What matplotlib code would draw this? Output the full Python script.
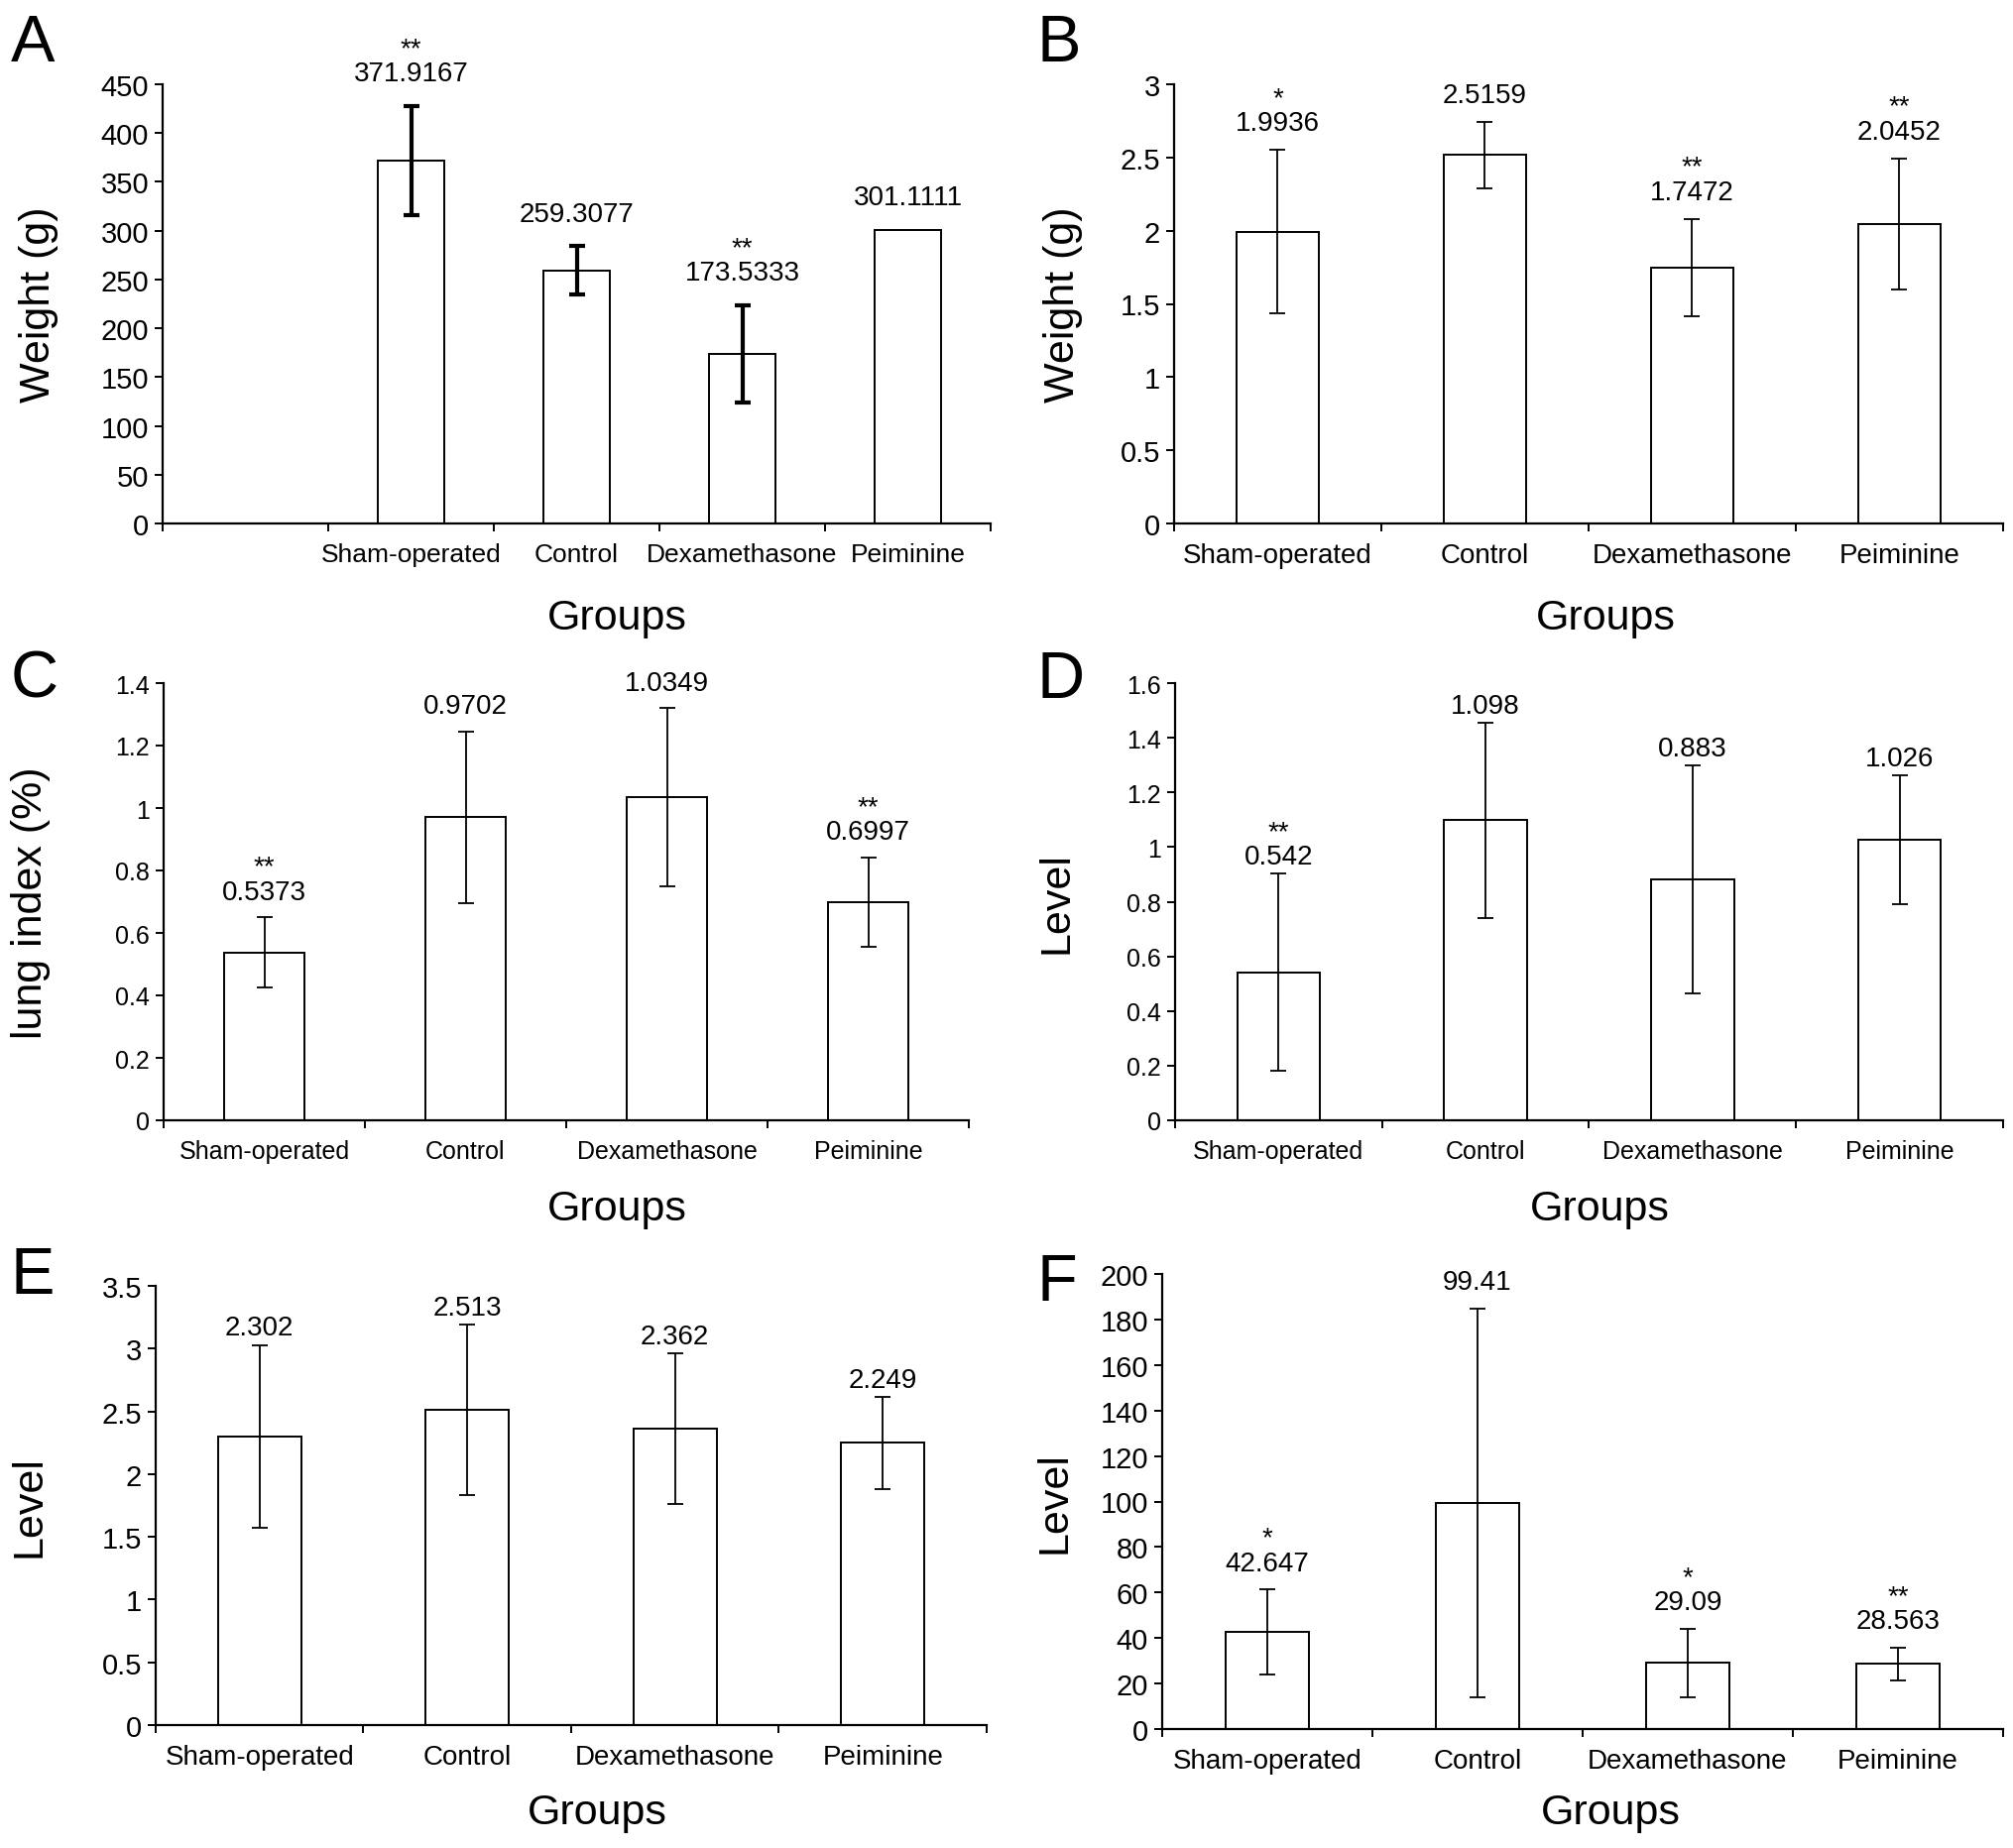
import numpy as np
import matplotlib
matplotlib.use('Agg')
import matplotlib.pyplot as plt
from matplotlib import font_manager
from matplotlib.ticker import MultipleLocator, FormatStrFormatter, FixedLocator

# fonts: narrow face for the value labels if there is one
names = set(f.name for f in font_manager.fontManager.ttflist)
narrow = 'Liberation Sans Narrow' if 'Liberation Sans Narrow' in names else 'Liberation Sans'
plt.rcParams['font.family'] = ['Liberation Sans', 'DejaVu Sans']

groups = ['Sham-operated', 'Control', 'Dexamethasone', 'Peiminine']

# A body weight
weight_body = [371.9167, 259.3077, 173.5333, 301.1111]
weight_body_sd = [56.0, 25.0, 50.0, 0.0]
weight_body_sig = ['**', '', '**', '']

# B lung weight
weight_lung = [1.9936, 2.5159, 1.7472, 2.0452]
weight_lung_sd = [0.56, 0.23, 0.335, 0.45]
weight_lung_sig = ['*', '', '**', '**']

# C lung index
lung_index = [0.5373, 0.9702, 1.0349, 0.6997]
lung_index_sd = [0.113, 0.275, 0.285, 0.143]
lung_index_sig = ['**', '', '', '**']

# D level
level_d = [0.542, 1.098, 0.883, 1.026]
level_d_sd = [0.36, 0.357, 0.417, 0.235]
level_d_sig = ['**', '', '', '']

# E level
level_e = [2.302, 2.513, 2.362, 2.249]
level_e_sd = [0.727, 0.68, 0.60, 0.365]
level_e_sig = ['', '', '', '']

# F level
level_f = [42.647, 99.41, 29.09, 28.563]
level_f_sd = [18.6, 85.5, 15.0, 7.0]
level_f_sig = ['*', '', '*', '**']

W, H = 2031, 1865


def px_box(left, right, top, bottom):
    return [left / W, 1 - bottom / H, (right - left) / W, (bottom - top) / H]


def draw_panel(fig, box, vals, errs, sig, ylim, ystep, ylabel, letter,
               letter_xy, ylabel_x, groups_xy, empty_first=False,
               thick=False, pad=10, tick_fs=21, cat_fs=20):
    ax = fig.add_axes(box)
    off = 1 if empty_first else 0
    n = len(vals) + off
    x = np.arange(len(vals)) + off
    ax.bar(x, vals, width=0.4, color='white', edgecolor='black',
           linewidth=1.4, zorder=2)
    keep = [i for i, e in enumerate(errs) if e > 0]
    ax.errorbar(x[keep], np.array(vals)[keep], yerr=np.array(errs)[keep],
                fmt='none', ecolor='black', elinewidth=3.0 if thick else 1.3,
                capsize=6, capthick=3.0 if thick else 1.3, zorder=3)
    # value label, with the significance stars on a line above it
    for xi, v, e, s in zip(x, vals, errs, sig):
        label = s + '\n' + str(v) if s else str(v)
        ax.annotate(label, (xi, v + e), xytext=(0, pad),
                    textcoords='offset points', ha='center', va='bottom',
                    fontsize=20, family=narrow, linespacing=0.95,
                    annotation_clip=False)
    ax.set_xlim(-0.5, n - 0.5)
    ax.set_ylim(*ylim)
    ax.yaxis.set_major_locator(MultipleLocator(ystep))
    ax.yaxis.set_major_formatter(FormatStrFormatter('%g'))
    ax.xaxis.set_major_locator(FixedLocator(np.arange(n + 1) - 0.5))
    ax.xaxis.set_major_formatter(plt.NullFormatter())
    ax.xaxis.set_minor_locator(FixedLocator(x))
    ax.set_xticklabels(groups, minor=True)
    ax.tick_params(axis='x', which='minor', length=0, pad=14, labelsize=cat_fs)
    ax.tick_params(axis='x', which='major', direction='out', length=6, width=1.4)
    ax.tick_params(axis='y', direction='out', length=6, width=1.4,
                   labelsize=tick_fs, pad=4)
    for sp in ['top', 'right']:
        ax.spines[sp].set_visible(False)
    for sp in ['left', 'bottom']:
        ax.spines[sp].set_linewidth(1.6)

    ymid = box[1] + box[3] / 2
    fig.text(ylabel_x / W, ymid, ylabel, rotation=90, ha='center', va='center',
             fontsize=31)
    fig.text(groups_xy[0] / W, 1 - groups_xy[1] / H, 'Groups', ha='center',
             va='center', fontsize=31)
    fig.text(letter_xy[0] / W, 1 - letter_xy[1] / H, letter, ha='left', va='top',
             fontsize=48)
    return ax


fig = plt.figure(figsize=(W / 100, H / 100), dpi=100)

draw_panel(fig, px_box(164, 999, 86, 529), weight_body, weight_body_sd,
           weight_body_sig, (0, 450), 50, 'Weight (g)', 'A', (11, 14), 39,
           (622, 624), empty_first=True, thick=True, pad=14, cat_fs=19)
draw_panel(fig, px_box(1184, 2020, 86, 529), weight_lung, weight_lung_sd,
           weight_lung_sig, (0, 3), 0.5, 'Weight (g)', 'B', (1046, 14), 1072,
           (1619, 624), pad=10)
draw_panel(fig, px_box(165, 977, 690, 1131), lung_index, lung_index_sd,
           lung_index_sig, (0, 1.4), 0.2, 'lung index (%)', 'C', (11, 656), 31,
           (622, 1220), pad=9, tick_fs=18, cat_fs=18)
draw_panel(fig, px_box(1185, 2020, 690, 1131), level_d, level_d_sd,
           level_d_sig, (0, 1.6), 0.2, 'Level', 'D', (1046, 656), 1066,
           (1613, 1220), pad=3, tick_fs=18, cat_fs=18)
draw_panel(fig, px_box(157, 995, 1298, 1741), level_e, level_e_sd,
           level_e_sig, (0, 3.5), 0.5, 'Level', 'E', (11, 1257), 30,
           (602, 1829), pad=3)
draw_panel(fig, px_box(1172, 2020, 1286, 1745), level_f, level_f_sd,
           level_f_sig, (0, 200), 20, 'Level', 'F', (1046, 1264), 1064,
           (1624, 1829), pad=10)

fig.savefig('out.png', dpi=100, facecolor='white')
